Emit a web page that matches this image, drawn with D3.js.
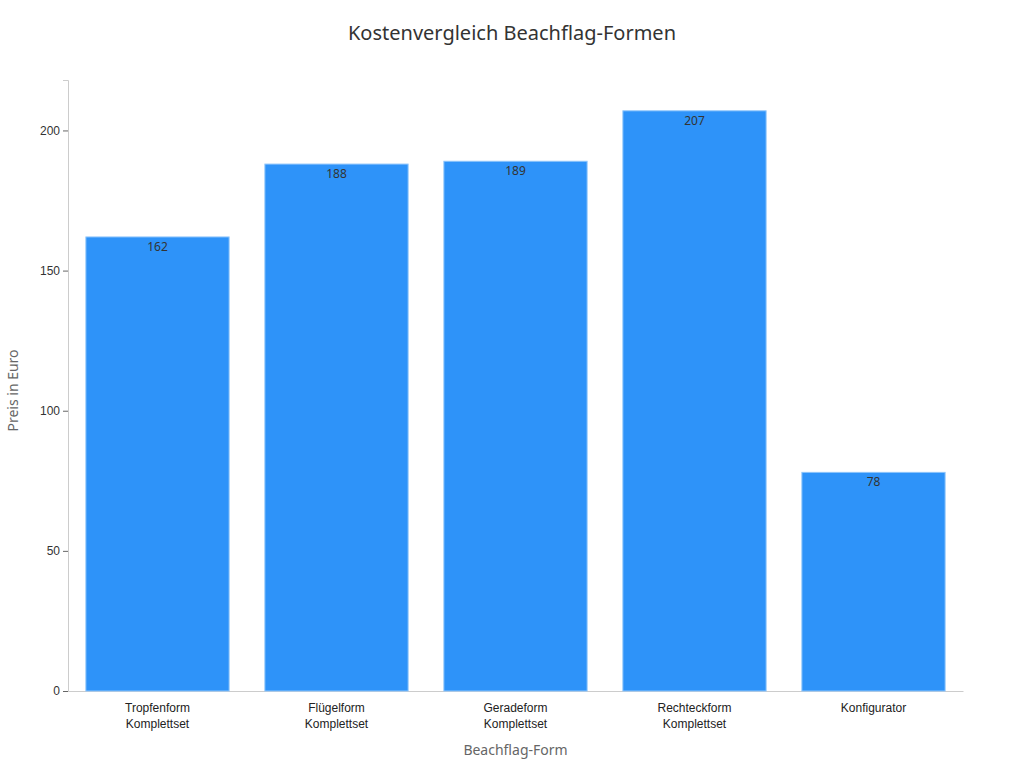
<!DOCTYPE html>
<html><head><meta charset="utf-8">
<script src="https://cdn.jsdelivr.net/npm/d3@7"></script>
<style>body{margin:0;background:#fff;font-family:"Noto Sans",sans-serif}</style>
</head><body><svg id="chart" width="1024" height="768"></svg>
<script>
var categories = [['Tropfenform', 'Komplettset'], ['Flügelform', 'Komplettset'], ['Geradeform', 'Komplettset'], ['Rechteckform', 'Komplettset'], ['Konfigurator']];
var prices = [162, 188, 189, 207, 78];
var yTicks = [0, 50, 100, 150, 200];

var svg = d3.select('#chart');
var m = {left: 68, right: 61, top: 80, bottom: 77};
var w = 1024 - m.left - m.right, h = 768 - m.top - m.bottom;
var g = svg.append('g').attr('transform', 'translate(' + m.left + ',' + m.top + ')');

var x = d3.scaleBand().domain(d3.range(categories.length)).range([0, w]).paddingInner(0.2).paddingOuter(0.1);
var y = d3.scaleLinear().domain([0, 218]).range([h, 0]);

svg.append('text').attr('x', 512).attr('y', 40).attr('text-anchor', 'middle')
  .attr('font-size', 20).attr('fill', '#333').text('Kostenvergleich Beachflag-Formen');

var ya = g.append('g').call(d3.axisLeft(y).tickValues(yTicks).tickSize(5));
ya.select('.domain').attr('stroke', '#ccc');
ya.selectAll('.tick line').attr('stroke', '#666');
ya.selectAll('text').attr('font-size', 12).attr('fill', '#333');

var xa = g.append('g').attr('transform', 'translate(0,' + h + ')').call(d3.axisBottom(x).tickSize(0).tickFormat(''));
xa.select('.domain').attr('stroke', '#ccc');
xa.selectAll('.tick').each(function(d) {
  var t = d3.select(this).append('text').attr('fill', '#222').attr('font-size', 12).attr('text-anchor', 'middle');
  categories[d].forEach(function(s, i) {
    t.append('tspan').attr('x', 0).attr('y', 21 + i * 16).text(s);
  });
});

g.selectAll('rect.bar').data(prices).enter().append('rect')
  .attr('x', function(d, i) { return x(i); }).attr('width', x.bandwidth())
  .attr('y', function(d) { return y(d); }).attr('height', function(d) { return h - y(d); })
  .attr('fill', '#2e93f9').attr('stroke', '#8cc4fb').attr('stroke-width', 1);

g.selectAll('text.val').data(prices).enter().append('text')
  .attr('x', function(d, i) { return x(i) + x.bandwidth() / 2; })
  .attr('y', function(d) { return y(d) + 14; })
  .attr('text-anchor', 'middle').attr('font-size', 12).attr('fill', '#333').text(function(d) { return d; });

svg.append('text').attr('x', m.left + w / 2).attr('y', 755).attr('text-anchor', 'middle')
  .attr('font-size', 14).attr('fill', '#666').text('Beachflag-Form');
svg.append('text').attr('transform', 'translate(18,' + (m.top + h / 2 + 5) + ') rotate(-90)')
  .attr('text-anchor', 'middle').attr('font-size', 14).attr('fill', '#666').text('Preis in Euro');
</script></body></html>
